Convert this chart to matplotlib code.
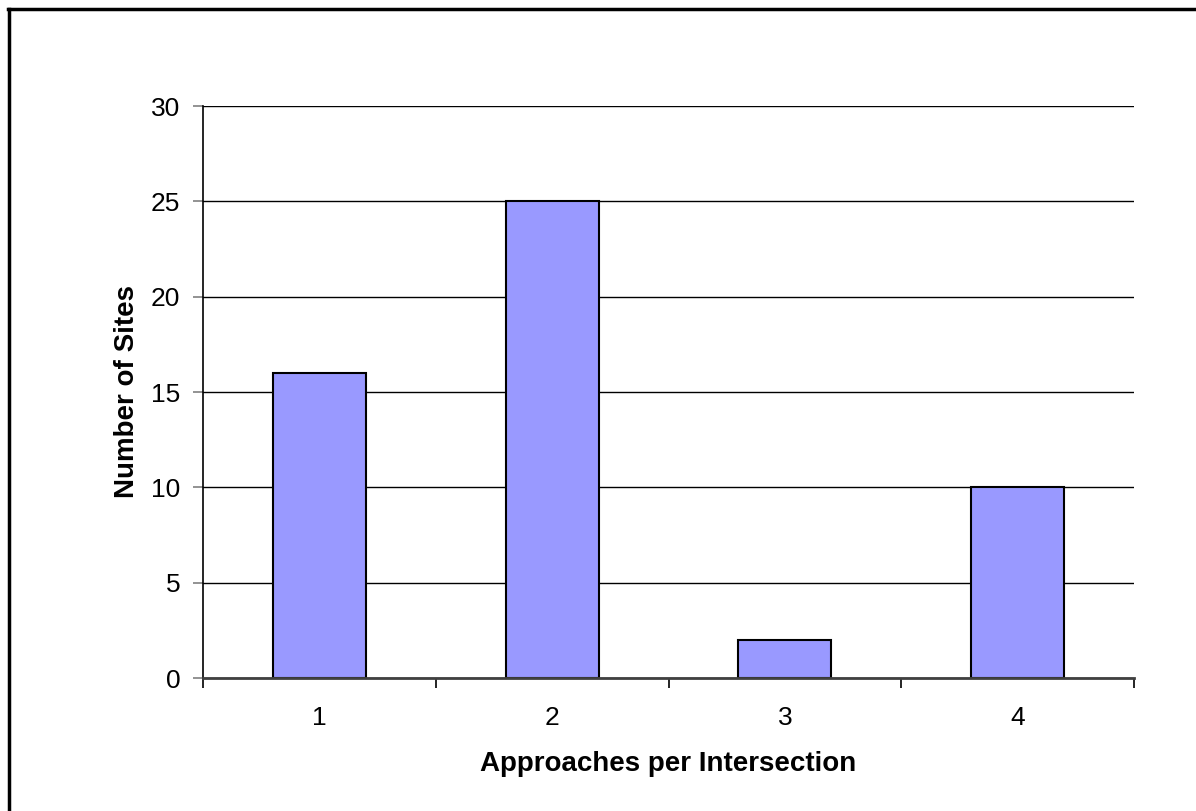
import matplotlib
matplotlib.use("Agg")
import matplotlib.pyplot as plt
from matplotlib.lines import Line2D

categories = ["1", "2", "3", "4"]
values = [16, 25, 2, 10]
y_ticks = [0, 5, 10, 15, 20, 25, 30]

plt.rcParams['font.family'] = ['Liberation Sans', 'DejaVu Sans']

W, H = 1196, 811
fig = plt.figure(figsize=(W / 100, H / 100), dpi=100)
ax_left, ax_right, ax_top, ax_bottom = 203, 1134, 106, 678
ax = fig.add_axes([ax_left / W, 1 - ax_bottom / H, (ax_right - ax_left) / W, (ax_bottom - ax_top) / H])
ax_h = ax_bottom - ax_top
ax_w = ax_right - ax_left

x = list(range(len(categories)))
ax.bar(x, values, width=0.4, color="#9999FF", edgecolor="black", linewidth=1.5, zorder=3)

ax.set_xlim(-0.5, len(categories) - 0.5)
ax.set_ylim(0, 30)
ax.set_yticks(y_ticks)
ax.set_yticklabels([str(t) for t in y_ticks], fontsize=19)
ax.yaxis.grid(True, color="black", linewidth=1, zorder=0)

ax.set_xticks(x)
ax.set_xticklabels(categories, fontsize=19)
ax.tick_params(axis="x", which="major", length=0, pad=20)
ax.set_xticks([i - 0.5 for i in range(len(categories) + 1)], minor=True)
ax.tick_params(axis="x", which="minor", length=7, width=1.2, direction="out", color="black")
ax.tick_params(axis="y", length=7, width=1.2, direction="out", color="#808080", pad=9.4)

for s in ["top", "right"]:
    ax.spines[s].set_visible(False)
ax.spines["left"].set_color("black")
ax.spines["left"].set_linewidth(1.2)
ax.spines["bottom"].set_color("#404040")
ax.spines["bottom"].set_linewidth(2)
ax.spines["bottom"].set_zorder(4)

ax.set_xlabel("Approaches per Intersection", fontsize=20, fontweight="bold")
ax.xaxis.label.set_va("baseline")
ax.xaxis.set_label_coords(0.5, (ax_bottom - 771) / ax_h)
ax.set_ylabel("Number of Sites", fontsize=20, fontweight="bold")
ax.yaxis.label.set_va("baseline")
ax.yaxis.set_label_coords((134 - ax_left) / ax_w, 0.5)

# figure frame (left and top edges only)
fig.add_artist(Line2D([8.5 / W, 8.5 / W], [0, 1 - 8.5 / H], transform=fig.transFigure, color="black", linewidth=2.5))
fig.add_artist(Line2D([7.5 / W, 1], [1 - 9 / H, 1 - 9 / H], transform=fig.transFigure, color="black", linewidth=2.5))

fig.savefig("out.png", dpi=100)
